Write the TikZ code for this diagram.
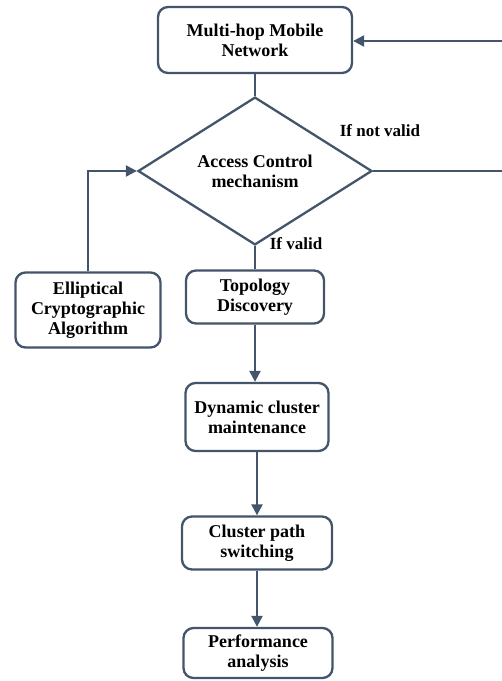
\documentclass[tikz,border=0pt]{standalone}
\usepackage{fontspec}
\setmainfont{Liberation Serif}
\usetikzlibrary{shapes.geometric,arrows.meta}
\definecolor{ln}{HTML}{44546A}
\begin{document}
\begin{tikzpicture}[x=1pt,y=-1pt,
  box/.style={draw=ln,line width=2.3pt,rounded corners=10pt,fill=white,inner sep=0pt,align=center,font=\fontsize{18}{20}\selectfont\bfseries},
  dec/.style={draw=ln,line width=2.3pt,shape=diamond,inner sep=0pt,align=center,font=\fontsize{18}{20}\selectfont\bfseries},
  lbl/.style={font=\fontsize{17}{19}\selectfont\bfseries,inner sep=0pt},
  conn/.style={draw=ln,line width=2.3pt},
  arr/.style={conn,-{Triangle[length=11pt,width=11pt]}}]
\useasboundingbox (0,0) rectangle (502,681);
\node[box,minimum width=194pt,minimum height=66pt] (top) at (255,40) {Multi-hop Mobile\\Network};
\node[dec,minimum width=234pt,minimum height=117pt] (dia) at (255,171) {Access Control\\mechanism};
\node[box,minimum width=145pt,minimum height=75pt] (eca) at (88,310) {Elliptical\\Cryptographic\\Algorithm};
\node[box,minimum width=138pt,minimum height=53pt] (topo) at (255,297) {Topology\\Discovery};
\node[box,minimum width=143pt,minimum height=68pt] (dyn) at (257,417) {Dynamic cluster\\maintenance};
\node[box,minimum width=150pt,minimum height=53pt] (clu) at (257,543) {Cluster path\\switching};
\node[box,minimum width=149pt,minimum height=50pt] (perf) at (258,653) {Performance\\analysis};
\node[lbl] (nv) at (380,131) {If not valid};
\node[lbl] (iv) at (296,244) {If valid};
\coordinate (r1) at (502,171);
\coordinate (r2) at (502,41);
\draw[conn] (top.south) -- (top.south |- dia.north);
\draw[conn] (dia.east) -- (r1);
\draw[arr] (r2) -- (top.east |- r2);
\draw[conn] (dia.south) -- (dia.south |- topo.north);
\draw[arr] (eca.north) |- (dia.west);
\draw[arr] (topo.south) -- (topo.south |- dyn.north);
\draw[arr] (dyn.south) -- (dyn.south |- clu.north);
\draw[arr] (clu.south) -- (clu.south |- perf.north);
\end{tikzpicture}
\end{document}
